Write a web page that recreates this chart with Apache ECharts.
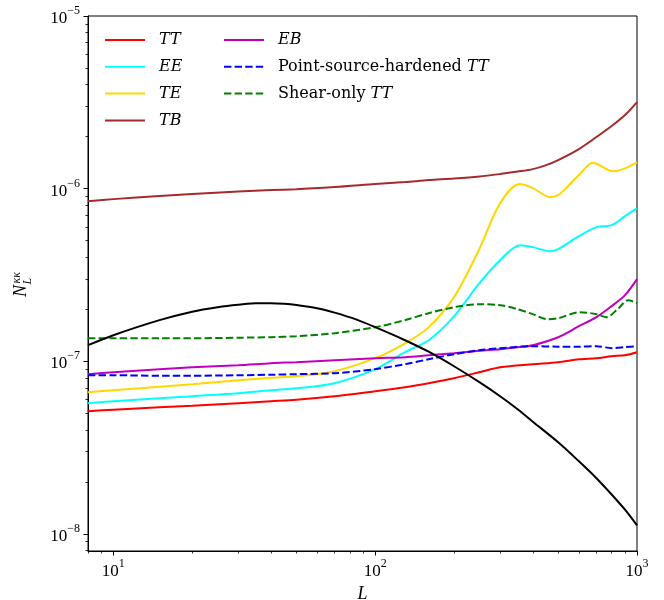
<!DOCTYPE html>
<html>
<head>
<meta charset="utf-8">
<script src="https://cdn.jsdelivr.net/npm/echarts@6/dist/echarts.min.js"></script>
<style>html,body{margin:0;padding:0;background:#fff;}#c{width:664px;height:600px;}</style>
</head>
<body>
<div id="c"></div>
<script>
// ---- data ----
const L_TT = [8,10,15,20,30,40,50,70,100,130,160,200,250,300,400,500,600,700,800,900,1000];
const N_TT = [5.13e-8,5.24e-8,5.41e-8,5.52e-8,5.71e-8,5.86e-8,5.98e-8,6.27e-8,6.70e-8,7.07e-8,7.46e-8,7.97e-8,8.63e-8,9.23e-8,9.61e-8,9.87e-8,1.027e-7,1.041e-7,1.069e-7,1.083e-7,1.128e-7];

const L_EE = [8,10,15,20,30,40,50,70,100,130,160,200,250,300,357,400,466,500,600,700,800,900,1000];
const N_EE = [5.71e-8,5.86e-8,6.10e-8,6.27e-8,6.52e-8,6.79e-8,6.97e-8,7.46e-8,8.99e-8,1.128e-7,1.323e-7,1.82e-7,2.83e-7,3.85e-7,4.70e-7,4.58e-7,4.34e-7,4.46e-7,5.30e-7,5.98e-7,6.14e-7,6.93e-7,7.71e-7];

const L_TE = [8,10,15,20,30,40,50,70,100,130,160,200,250,300,357,400,466,500,550,600,679,809,900,1000];
const N_TE = [6.61e-8,6.79e-8,7.11e-8,7.36e-8,7.76e-8,8.02e-8,8.18e-8,8.75e-8,1.041e-7,1.27e-7,1.57e-7,2.35e-7,4.46e-7,8.24e-7,1.062e-6,1.007e-6,8.93e-7,9.17e-7,1.048e-6,1.20e-6,1.41e-6,1.26e-6,1.31e-6,1.42e-6];

const L_TB = [8,10,15,20,30,40,50,70,100,130,160,200,250,300,350,400,450,500,600,700,800,900,1000];
const N_TB = [8.46e-7,8.69e-7,9.05e-7,9.29e-7,9.61e-7,9.80e-7,9.93e-7,1.020e-6,1.062e-6,1.091e-6,1.120e-6,1.143e-6,1.174e-6,1.214e-6,1.255e-6,1.297e-6,1.368e-6,1.463e-6,1.694e-6,1.989e-6,2.303e-6,2.668e-6,3.173e-6];

const L_EB = [8,10,15,20,30,40,50,70,100,130,160,200,250,300,350,400,500,600,700,800,900,1000];
const N_EB = [8.41e-8,8.63e-8,8.99e-8,9.23e-8,9.48e-8,9.74e-8,9.87e-8,1.013e-7,1.041e-7,1.055e-7,1.083e-7,1.113e-7,1.150e-7,1.174e-7,1.206e-7,1.238e-7,1.377e-7,1.595e-7,1.799e-7,2.084e-7,2.413e-7,2.988e-7];

const L_PSH = [8,10,15,20,30,40,50,70,100,130,160,200,250,300,400,500,600,700,800,900,1000];
const N_PSH = [8.29e-8,8.29e-8,8.24e-8,8.24e-8,8.29e-8,8.35e-8,8.41e-8,8.52e-8,8.99e-8,9.61e-8,1.027e-7,1.098e-7,1.158e-7,1.190e-7,1.222e-7,1.214e-7,1.214e-7,1.222e-7,1.190e-7,1.206e-7,1.222e-7];

const L_SH = [8,10,15,20,30,40,50,70,100,130,160,200,250,300,350,400,453,500,606,700,765,850,925,1000];
const N_SH = [1.359e-7,1.359e-7,1.359e-7,1.359e-7,1.368e-7,1.377e-7,1.396e-7,1.453e-7,1.574e-7,1.729e-7,1.898e-7,2.056e-7,2.140e-7,2.112e-7,2.001e-7,1.873e-7,1.752e-7,1.775e-7,1.923e-7,1.873e-7,1.799e-7,2.028e-7,2.258e-7,2.169e-7];

const L_SIG = [8,10,15,20,25,30,35,40,45,50,60,70,85,100,130,160,200,250,300,350,400,500,600,700,800,900,1000];
const N_SIG = [1.238e-7,1.415e-7,1.729e-7,1.936e-7,2.056e-7,2.126e-7,2.163e-7,2.169e-7,2.152e-7,2.118e-7,2.028e-7,1.911e-7,1.740e-7,1.574e-7,1.323e-7,1.135e-7,9.35e-8,7.56e-8,6.27e-8,5.27e-8,4.46e-8,3.39e-8,2.63e-8,2.10e-8,1.69e-8,1.38e-8,1.12e-8];

const X_MAJOR = [10, 100, 1000];
const X_MINOR = [8,9,20,30,40,50,60,70,80,90,200,300,400,500,600,700,800,900];
const Y_MAJOR = [1e-8, 1e-7, 1e-6, 1e-5];
const Y_MINOR = [8e-9,9e-9,2e-8,3e-8,4e-8,5e-8,6e-8,7e-8,8e-8,9e-8,2e-7,3e-7,4e-7,5e-7,6e-7,7e-7,8e-7,9e-7,2e-6,3e-6,4e-6,5e-6,6e-6,7e-6,8e-6,9e-6];
const X_MIN = 8, X_MAX = 1000, Y_MIN = 7.95e-9, Y_MAX = 1e-5;

const LEGEND_A = ['TT', 'EE', 'TE', 'TB'];
const LEGEND_B = ['EB', 'Point-source-hardened TT', 'Shear-only TT'];

// ---- chart ----
const SERIF = '"Liberation Serif", "DejaVu Serif", serif';
const LSERIF = '"DejaVu Serif", serif';
const lg = Math.log10;
function pairs(xs, ys) { return xs.map((x, i) => [x, ys[i]]); }
function powLabel(v) {
  const e = Math.round(Math.log10(v));
  return '{b|10}{s|' + (e < 0 ? '\u2212' + (-e) : e) + '}';
}
const tickRich = {
  b: { fontFamily: SERIF, fontSize: 17, lineHeight: 22, color: '#000', verticalAlign: 'bottom' },
  s: { fontFamily: SERIF, fontSize: 12, lineHeight: 14, color: '#000', verticalAlign: 'top' }
};
function legendFmt(name) {
  if (name === 'Point-source-hardened TT') return 'Point-source-hardened {i|TT}';
  if (name === 'Shear-only TT') return 'Shear-only {i|TT}';
  return '{i|' + name + '}';
}
const legendText = {
  fontFamily: LSERIF, fontSize: 16, color: '#000', lineHeight: 18, padding: [0, 0, 0, 9],
  rich: { i: { fontFamily: LSERIF, fontStyle: 'italic', fontSize: 16, color: '#000' } }
};

function line(name, xs, ys, color, dashed) {
  return {
    name: name, type: 'line', data: pairs(xs, ys), xAxisIndex: 0, yAxisIndex: 0,
    showSymbol: false, symbol: 'none', smooth: 0.3, clip: true, silent: true,
    lineStyle: { color: color, width: 2, type: dashed ? [7.4, 3.2] : 'solid' },
    itemStyle: { color: color }
  };
}

// tick-only overlay axes (value axes in log10 space, no data)
function tickAxis(pos, min, max, vals, len) {
  return {
    type: 'value', position: pos, offset: 0, min: min, max: max,
    axisLine: { show: false }, splitLine: { show: false }, axisLabel: { show: false },
    axisTick: { show: true, customValues: vals.map(lg), length: len, lineStyle: { color: '#000', width: len > 3 ? 1 : 0.8 } }
  };
}

const chart = echarts.init(document.getElementById('c'), null, { renderer: 'canvas' });
chart.setOption({
  animation: false,
  backgroundColor: '#fff',
  grid: { left: 88, right: 27, top: 16, bottom: 49, show: true, borderColor: '#000', borderWidth: 1,
          backgroundColor: 'transparent', containLabel: false, outerBoundsMode: 'none' },
  xAxis: [
    {
      type: 'log', logBase: 10, min: X_MIN, max: X_MAX, position: 'bottom', offset: 0,
      splitLine: { show: false }, minorTick: { show: false },
      axisLine: { show: true, lineStyle: { color: '#000', width: 1 } },
      axisTick: { show: false },
      axisLabel: { show: true, customValues: X_MAJOR, margin: 7, formatter: powLabel, rich: tickRich },
      name: '{l|L}', nameLocation: 'middle', nameGap: 29,
      nameTextStyle: { rich: { l: { fontFamily: SERIF, fontStyle: 'italic', fontSize: 18, color: '#000' } } }
    },
    tickAxis('bottom', lg(X_MIN), lg(X_MAX), X_MAJOR, 4.5),
    tickAxis('bottom', lg(X_MIN), lg(X_MAX), X_MINOR, 2.5)
  ],
  yAxis: [
    {
      type: 'log', logBase: 10, min: Y_MIN, max: Y_MAX, position: 'left', offset: 0,
      splitLine: { show: false }, minorTick: { show: false },
      axisLine: { show: true, lineStyle: { color: '#000', width: 1 } },
      axisTick: { show: false },
      axisLabel: { show: true, customValues: Y_MAJOR, margin: 8, formatter: powLabel, rich: tickRich }
    },
    tickAxis('left', lg(Y_MIN), lg(Y_MAX), Y_MAJOR, 4.5),
    tickAxis('left', lg(Y_MIN), lg(Y_MAX), Y_MINOR, 2.5)
  ],
  legend: [
    { data: LEGEND_A, orient: 'vertical', left: 104, top: 31, padding: 0, itemWidth: 40, itemHeight: 14, itemGap: 8.8,
      formatter: legendFmt, textStyle: legendText, selectedMode: false, itemStyle: { opacity: 0 } },
    { data: LEGEND_B, orient: 'vertical', left: 223, top: 31, padding: 0, itemWidth: 40, itemHeight: 14, itemGap: 8.8,
      formatter: legendFmt, textStyle: legendText, selectedMode: false, itemStyle: { opacity: 0 } }
  ],
  graphic: [{
    type: 'group', x: 27, y: 297, rotation: Math.PI / 2, silent: true,
    children: [
      { type: 'text', x: 0, y: -6, style: { text: 'N', fontFamily: SERIF, fontStyle: 'italic', fontSize: 18, fill: '#000', verticalAlign: 'middle', align: 'left' } },
      { type: 'text', x: 13.5, y: -10.5, style: { text: '\u03BA\u03BA', fontFamily: SERIF, fontStyle: 'italic', fontSize: 12, fill: '#000', verticalAlign: 'middle', align: 'left' } },
      { type: 'text', x: 12.5, y: 0.5, style: { text: 'L', fontFamily: SERIF, fontStyle: 'italic', fontSize: 12, fill: '#000', verticalAlign: 'middle', align: 'left' } }
    ]
  }],
  series: [
    line('TT', L_TT, N_TT, '#ff0000', false),
    line('EE', L_EE, N_EE, '#00ffff', false),
    line('TE', L_TE, N_TE, '#ffd700', false),
    line('TB', L_TB, N_TB, '#a52a2a', false),
    line('EB', L_EB, N_EB, '#bf00bf', false),
    line('Point-source-hardened TT', L_PSH, N_PSH, '#0000ff', true),
    line('Shear-only TT', L_SH, N_SH, '#008000', true),
    line('signal', L_SIG, N_SIG, '#000000', false)
  ]
});
</script>
</body>
</html>
